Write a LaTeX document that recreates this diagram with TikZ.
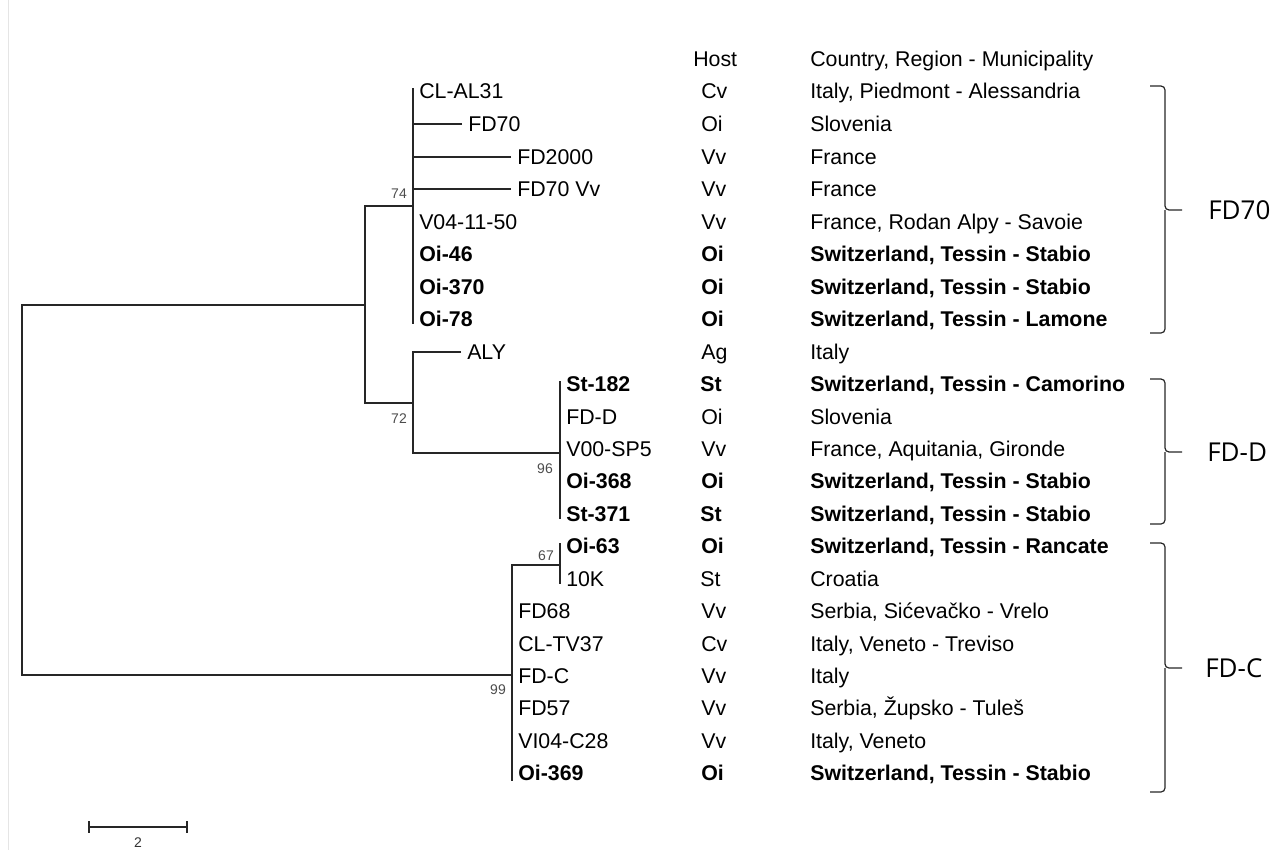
\documentclass[tikz,border=0pt]{standalone}
\usepackage{fontspec}
\setmainfont{Liberation Sans}
\newfontfamily\cladefont{Open Sans}
\usetikzlibrary{positioning}

\begin{document}
\begin{tikzpicture}[
  x=0.75pt, y=-0.75pt,
  branch/.style={draw=black!85, line width=1.1pt},
  span/.style={branch, shorten <=-2pt, shorten >=-4pt},
  taxon/.style={anchor=west, inner xsep=4.5pt, inner ysep=0pt, text height=12pt, text depth=1pt, font=\fontsize{16}{18}\selectfont},
  strain/.style={taxon, font=\fontsize{16}{18}\selectfont\bfseries},
  col/.style={anchor=west, inner sep=0pt, text height=12pt, text depth=1pt, font=\fontsize{16}{18}\selectfont},
  boldcol/.style={col, font=\fontsize{16}{18}\selectfont\bfseries},
  boot/.style={inner sep=0pt, text=black!70, font=\fontsize{10.5}{12}\selectfont},
  clade/.style={anchor=west, inner sep=0pt, font=\cladefont\fontsize{19.5}{22}\selectfont},
  bracket/.style={draw=black!85, line width=0.9pt, rounded corners=3pt}
]
  \useasboundingbox (0,0) rectangle (1283,850);
  \draw[black!10] (8,0) -- (8,850);

  % headers
  \node[col] (hosthead) at (693,59) {Host};
  \node[col] (placehead) at (810,59) {Country, Region - Municipality};

  % inner nodes of the tree
  \coordinate (root) at (22,490);
  \coordinate (nA) at (365,305);
  \coordinate (n74) at (413,206);
  \coordinate (n72) at (413,403);
  \coordinate (n96) at (560,453);
  \coordinate (n99) at (512,675);
  \coordinate (n67) at (560,565);

  % FD70 group
  \node[taxon] (clal31) at (413,91) {CL-AL31};
  \node[taxon] (fd70) at (462,124) {FD70};
  \node[taxon] (fd2000) at (511,157) {FD2000};
  \node[taxon] (fd70vv) at (511,189) {FD70 Vv};
  \node[taxon] (v041150) at (413,222) {V04-11-50};
  \node[strain] (oi46) at (413,254) {Oi-46};
  \node[strain] (oi370) at (413,287) {Oi-370};
  \node[strain] (oi78) at (413,319) {Oi-78};
  \node[taxon] (aly) at (461,352) {ALY};

  % FD-D group
  \node[strain] (st182) at (560,384) {St-182};
  \node[taxon] (fdd) at (560,417) {FD-D};
  \node[taxon] (v00sp5) at (560,449) {V00-SP5};
  \node[strain] (oi368) at (560,481) {Oi-368};
  \node[strain] (st371) at (560,514) {St-371};

  % FD-C group
  \node[strain] (oi63) at (560,546) {Oi-63};
  \node[taxon] (tenk) at (560,579) {10K};
  \node[taxon] (fd68) at (512,611) {FD68};
  \node[taxon] (cltv37) at (512,644) {CL-TV37};
  \node[taxon] (fdc) at (512,676) {FD-C};
  \node[taxon] (fd57) at (512,708) {FD57};
  \node[taxon] (vi04c28) at (512,741) {VI04-C28};
  \node[strain] (oi369) at (512,773) {Oi-369};

  % host column
  \node[col] (clal31h) at (701,91) {Cv};
  \node[col] (fd70h) at (701,124) {Oi};
  \node[col] (fd2000h) at (701,157) {Vv};
  \node[col] (fd70vvh) at (701,189) {Vv};
  \node[col] (v041150h) at (701,222) {Vv};
  \node[boldcol] (oi46h) at (701,254) {Oi};
  \node[boldcol] (oi370h) at (701,287) {Oi};
  \node[boldcol] (oi78h) at (701,319) {Oi};
  \node[col] (alyh) at (701,352) {Ag};
  \node[boldcol] (st182h) at (700,384) {St};
  \node[col] (fddh) at (701,417) {Oi};
  \node[col] (v00sp5h) at (701,449) {Vv};
  \node[boldcol] (oi368h) at (701,481) {Oi};
  \node[boldcol] (st371h) at (700,514) {St};
  \node[boldcol] (oi63h) at (701,546) {Oi};
  \node[col] (tenkh) at (700,579) {St};
  \node[col] (fd68h) at (701,611) {Vv};
  \node[col] (cltv37h) at (701,644) {Cv};
  \node[col] (fdch) at (701,676) {Vv};
  \node[col] (fd57h) at (701,708) {Vv};
  \node[col] (vi04c28h) at (701,741) {Vv};
  \node[boldcol] (oi369h) at (701,773) {Oi};

  % origin column
  \node[col] (clal31p) at (810,91) {Italy, Piedmont - Alessandria};
  \node[col] (fd70p) at (810,124) {Slovenia};
  \node[col] (fd2000p) at (810,157) {France};
  \node[col] (fd70vvp) at (810,189) {France};
  \node[col] (v041150p) at (810,222) {France, Rodan Alpy - Savoie};
  \node[boldcol] (oi46p) at (810,254) {Switzerland, Tessin - Stabio};
  \node[boldcol] (oi370p) at (810,287) {Switzerland, Tessin - Stabio};
  \node[boldcol] (oi78p) at (810,319) {Switzerland, Tessin - Lamone};
  \node[col] (alyp) at (810,352) {Italy};
  \node[boldcol] (st182p) at (810,384) {Switzerland, Tessin - Camorino};
  \node[col] (fddp) at (810,417) {Slovenia};
  \node[col] (v00sp5p) at (810,449) {France, Aquitania, Gironde};
  \node[boldcol] (oi368p) at (810,481) {Switzerland, Tessin - Stabio};
  \node[boldcol] (st371p) at (810,514) {Switzerland, Tessin - Stabio};
  \node[boldcol] (oi63p) at (810,546) {Switzerland, Tessin - Rancate};
  \node[col] (tenkp) at (810,579) {Croatia};
  \node[col] (fd68p) at (810,611) {Serbia, Sićevačko - Vrelo};
  \node[col] (cltv37p) at (810,644) {Italy, Veneto - Treviso};
  \node[col] (fdcp) at (810,676) {Italy};
  \node[col] (fd57p) at (810,708) {Serbia, Župsko - Tuleš};
  \node[col] (vi04c28p) at (810,741) {Italy, Veneto};
  \node[boldcol] (oi369p) at (810,773) {Switzerland, Tessin - Stabio};

  % branches
  \draw[branch] (nA) -- (nA -| root) -- (n99 -| root) -- (n99);
  \draw[branch] (n74) -- (n74 -| nA) -- (n72 -| nA) -- (n72);
  \draw[span] (clal31.west) -- (oi78.west);
  \draw[branch] (fd70.west) -- (fd70.west -| n74);
  \draw[branch] (fd2000.west) -- (fd2000.west -| n74);
  \draw[branch] (fd70vv.west) -- (fd70vv.west -| n74);
  \draw[branch] (aly.west) -- (aly.west -| n72) -- (n96 -| n72) -- (n96);
  \draw[span] (st182.west) -- (st371.west);
  \draw[branch] (n67) -- (n67 -| n99) -- ([yshift=-6pt]oi369.west -| n99);
  \draw[span] (oi63.west) -- (tenk.west);

  % bootstrap values
  \node[boot] (b74) at (399,194) {74};
  \node[boot] (b72) at (399,419) {72};
  \node[boot] (b96) at (545,469) {96};
  \node[boot] (b67) at (546,556) {67};
  \node[boot] (b99) at (498,690) {99};

  % clade brackets
  \draw[bracket] (1150,86) -| (1165,210) -- (1182,210);
  \draw[bracket] (1165,210) |- (1150,333);
  \node[clade] (cfd70) at (1208,210) {FD70};
  \draw[bracket] (1150,379) -| (1165,452) -- (1182,452);
  \draw[bracket] (1165,452) |- (1150,524);
  \node[clade] (cfdd) at (1207,452) {FD-D};
  \draw[bracket] (1150,543) -| (1165,668) -- (1182,668);
  \draw[bracket] (1165,668) |- (1150,792);
  \node[clade] (cfdc) at (1205,668) {FD-C};

  % scale bar
  \draw[branch] (89,821) -- (89,833) (89,827) -- (187,827) (187,821) -- (187,833);
  \node[boot, text=black!80] (scale) at (138,843) {2};
\end{tikzpicture}
\end{document}
